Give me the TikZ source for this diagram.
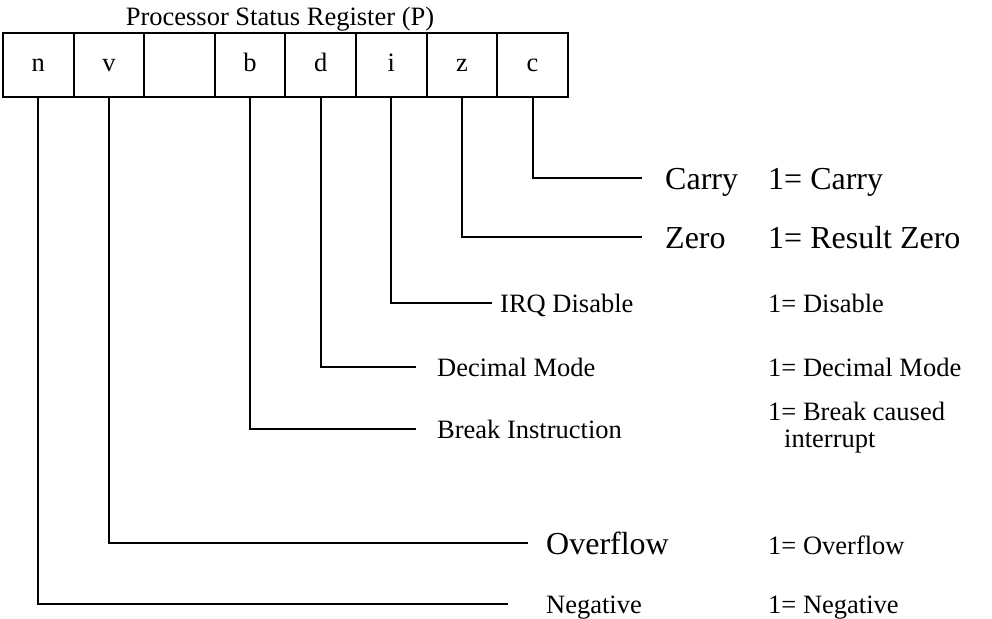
\documentclass[tikz,border=0pt]{standalone}
\usepackage{fontspec}
\setmainfont{Liberation Serif}
\usetikzlibrary{positioning}
\newcommand{\smalltxt}{\fontsize{26.5}{31}\selectfont}
\newcommand{\bigtxt}{\fontsize{32}{37}\selectfont}
\tikzset{
    %register cell
    bit/.style={
      rectangle,
      draw=black, line width=2pt,
      minimum width=70.6pt,
      minimum height=64pt,
      text height=12pt, text depth=0pt,
      inner sep=0pt, outer sep=0pt,
      font=\smalltxt},
    lead/.style={
      draw=black, line width=2pt},
    flagbig/.style={
      anchor=base west, inner sep=0pt,
      font=\bigtxt},
    flagsmall/.style={
      anchor=base west, inner sep=0pt,
      font=\smalltxt}
}
\begin{document}
\begin{tikzpicture}[x=1pt,y=-1pt]
    \useasboundingbox (0,0) rectangle (992,618);
    \node (title) [font=\smalltxt, anchor=base] at (280,26)
          {Processor Status Register (P)};
    % the register
    \node (n) [bit] at (38.3,65) {n};
    \node (v) [bit] [right=0pt of n] {v};
    \node (u) [bit] [right=0pt of v] {};
    \node (b) [bit] [right=0pt of u] {b};
    \node (d) [bit] [right=0pt of b] {d};
    \node (i) [bit] [right=0pt of d] {i};
    \node (z) [bit] [right=0pt of i] {z};
    \node (c) [bit] [right=0pt of z] {c};
    % ends of the leaders
    \coordinate (cEnd) at (642,178);
    \coordinate (zEnd) at (642,237);
    \coordinate (iEnd) at (492,303);
    \coordinate (dEnd) at (416,367);
    \coordinate (bEnd) at (416,429);
    \coordinate (vEnd) at (528,543);
    \coordinate (nEnd) at (508,604);
    % flag names
    \node (carry) [flagbig] at (665,189) {Carry};
    \node (zero) [flagbig] at (665,248) {Zero};
    \node (irq) [flagsmall] at (500,312) {IRQ Disable};
    \node (dec) [flagsmall] at (437,376) {Decimal Mode};
    \node (brk) [flagsmall] at (437,438) {Break Instruction};
    \node (ovf) [flagbig] at (546,554) {Overflow};
    \node (neg) [flagsmall] at (546,613) {Negative};
    % meanings
    \node (carryV) [flagbig] at (768,189) {1= Carry};
    \node (zeroV) [flagbig] at (768,248) {1= Result Zero};
    \node (irqV) [flagsmall] at (768,312) {1= Disable};
    \node (decV) [flagsmall] at (768,376) {1= Decimal Mode};
    \node (brkV) [flagsmall] at (768,420) {1= Break caused};
    \node (brkW) [flagsmall] at (784,447) {interrupt};
    \node (ovfV) [flagsmall] at (768,554) {1= Overflow};
    \node (negV) [flagsmall] at (768,613) {1= Negative};
    % leaders
    \draw [lead] (c.south) |- (cEnd);
    \draw [lead] (z.south) |- (zEnd);
    \draw [lead] (i.south) |- (iEnd);
    \draw [lead] (d.south) |- (dEnd);
    \draw [lead] (b.south) |- (bEnd);
    \draw [lead] (v.south) |- (vEnd);
    \draw [lead] (n.south) |- (nEnd);
\end{tikzpicture}
\end{document}
